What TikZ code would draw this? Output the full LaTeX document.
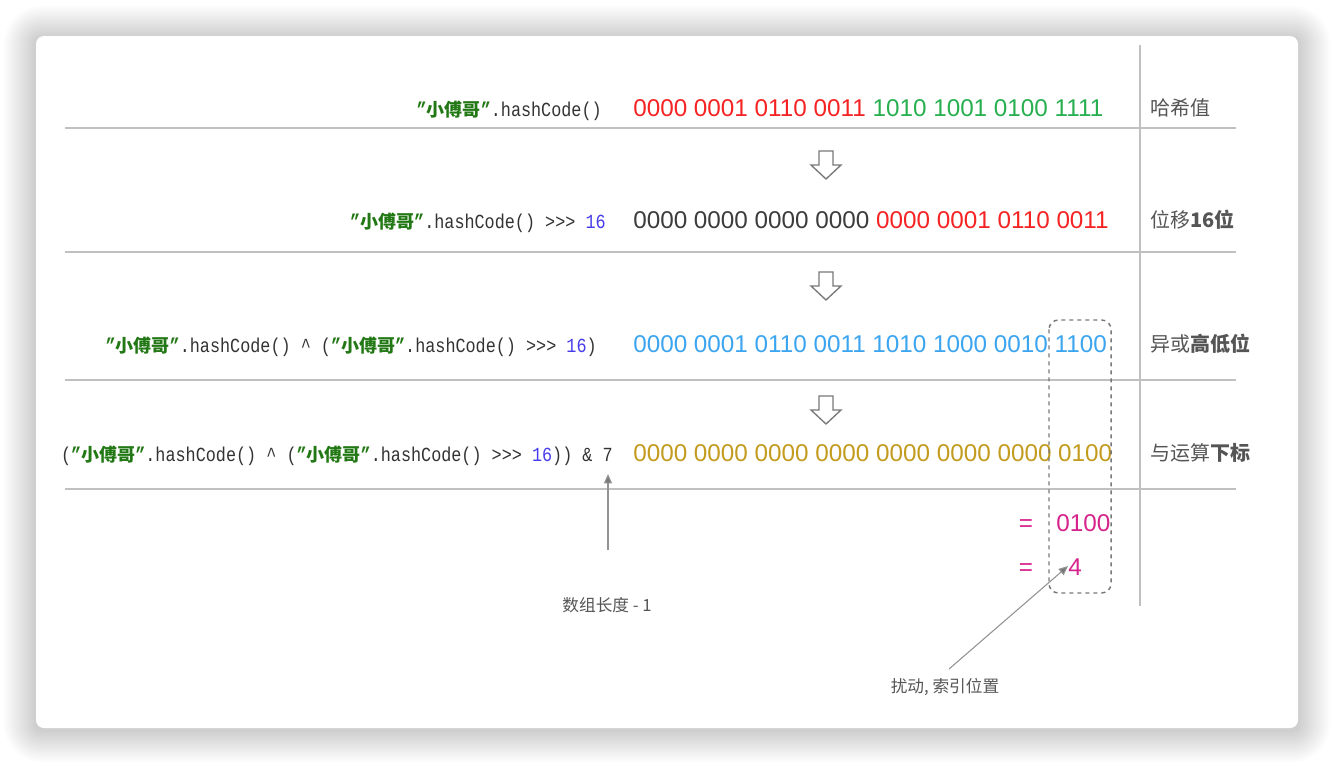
\documentclass[tikz,border=0pt]{standalone}
\usepackage{fontspec}
\newfontfamily\cjk{Noto Sans CJK SC}
\newfontfamily\codemono[FakeStretch=0.84]{Liberation Mono}
\newfontfamily\binsans{Liberation Sans}
\usetikzlibrary{arrows.meta}
\definecolor{codegreen}{RGB}{34,120,20}
\definecolor{codeblack}{RGB}{51,51,51}
\definecolor{codeblue}{RGB}{70,60,235}
\definecolor{binred}{RGB}{245,35,35}
\definecolor{bingreen}{RGB}{40,175,80}
\definecolor{bingray}{RGB}{60,60,60}
\definecolor{binblue}{RGB}{60,165,240}
\definecolor{bingold}{RGB}{195,155,30}
\definecolor{binmag}{RGB}{215,35,140}
\definecolor{labelgray}{RGB}{85,85,85}
\definecolor{linegray}{RGB}{192,192,192}
\definecolor{arrowgray}{RGB}{120,120,120}
\newcommand{\xfg}{{\color{codegreen}\bfseries”{\cjk\fontsize{13.5pt}{16pt}\selectfont 小傅哥}”}}
\tikzset{
  code/.style={font={\fontsize{15pt}{17pt}\selectfont\codemono}, text=codeblack, inner sep=0pt, anchor=base east},
  bin/.style={font={\fontsize{18.2pt}{21pt}\selectfont\binsans}, inner sep=0pt, anchor=base west},
  lbl/.style={font={\fontsize{15pt}{18pt}\selectfont\cjk}, text=labelgray, inner sep=0pt, anchor=base west},
  note/.style={font={\fontsize{12.5pt}{15pt}\selectfont\cjk}, text=labelgray, inner sep=0pt},
  hline/.style={draw=linegray, line width=1.5pt},
  vline/.style={draw=linegray, line width=1.1pt},
  dashbox/.style={draw=arrowgray, dashed, line width=1.1pt, rounded corners=7pt},
  ptr/.style={draw=arrowgray!80, line width=0.8pt, -{Triangle[length=7pt,width=6pt,fill=arrowgray]}},
  downarr/.pic={\draw[draw=arrowgray, line width=1pt, line join=miter, fill=white]
     (-7,-14) -- (7,-14) -- (7,0) -- (15,0) -- (0,14) -- (-15,0) -- (-7,0) -- cycle;}
}
\begin{document}
\begin{tikzpicture}[x=0.75pt,y=-0.75pt]
\useasboundingbox (0,0) rectangle (1334,764);
\fill[white] (0,0) rectangle (1334,764);
\foreach \i in {1,...,16} {
  \fill[black, opacity=0.011, rounded corners={(6+2*\i)*0.75pt}] (36-2*\i,38-2*\i) rectangle (1298+2*\i,730+2*\i);
}
\fill[white, rounded corners=6pt] (36,36) rectangle (1298,728);

% grid lines
\draw[hline] (65,128) -- (1236,128);
\draw[hline] (65,252) -- (1236,252);
\draw[hline] (65,380) -- (1236,380);
\draw[hline] (65,489) -- (1236,489);
\draw[vline] (1140,45) -- (1140,606);

% row 1
\node[code] (c1) at (602,116) {\xfg.hashCode()};
\node[bin] (b1) at (633,116) {\color{binred}0000 0001 0110 0011 \color{bingreen}1010 1001 0100 1111};
\node[lbl] (l1) at (1150,115) {哈希值};
\pic at (826,165) {downarr};

% row 2
\node[code] (c2) at (606,228) {\xfg.hashCode() >{}>{}> {\color{codeblue}16}};
\node[bin] (b2) at (633,228) {\color{bingray}0000 0000 0000 0000 \color{binred}0000 0001 0110 0011};
\node[lbl] (l2) at (1150,227) {位移{\bfseries 16位}};
\pic at (826,286) {downarr};

% row 3
\node[code] (c3) at (597,352) {\xfg.hashCode() \textasciicircum{} (\xfg.hashCode() >{}>{}> {\color{codeblue}16})};
\node[bin, text=binblue] (b3) at (633,352) {0000 0001 0110 0011 1010 1000 0010 1100};
\node[lbl] (l3) at (1150,351) {异或{\bfseries 高低位}};
\pic at (826,410) {downarr};

% row 4
\node[code] (c4) at (613,461) {(\xfg.hashCode() \textasciicircum{} (\xfg.hashCode() >{}>{}> {\color{codeblue}16})) \& 7};
\node[bin, text=bingold] (b4) at (633,461) {0000 0000 0000 0000 0000 0000 0000 0100};
\node[lbl] (l4) at (1150,460) {与运算{\bfseries 下标}};

% results
\node[bin, text=binmag, anchor=base] (eq1) at (1026,531) {=};
\node[bin, text=binmag] (r1) at (1056,531) {0100};
\node[bin, text=binmag, anchor=base] (eq2) at (1026,575) {=};
\node[bin, text=binmag] (r2) at (1068,575) {4};

\draw[dashbox] (1049,320) rectangle (1111,593);

% notes
\coordinate (p1s) at (608,550);
\coordinate (p1e) at (608,474);
\draw[ptr] (p1s) -- (p1e);
\node[note] (n1) at (607,605) {数组长度 - 1};
\coordinate (p2s) at (949,669);
\coordinate (p2e) at (1068,566);
\draw[ptr] (p2s) -- (p2e);
\node[note] (n2) at (945,687) {扰动, 索引位置};
\end{tikzpicture}
\end{document}
